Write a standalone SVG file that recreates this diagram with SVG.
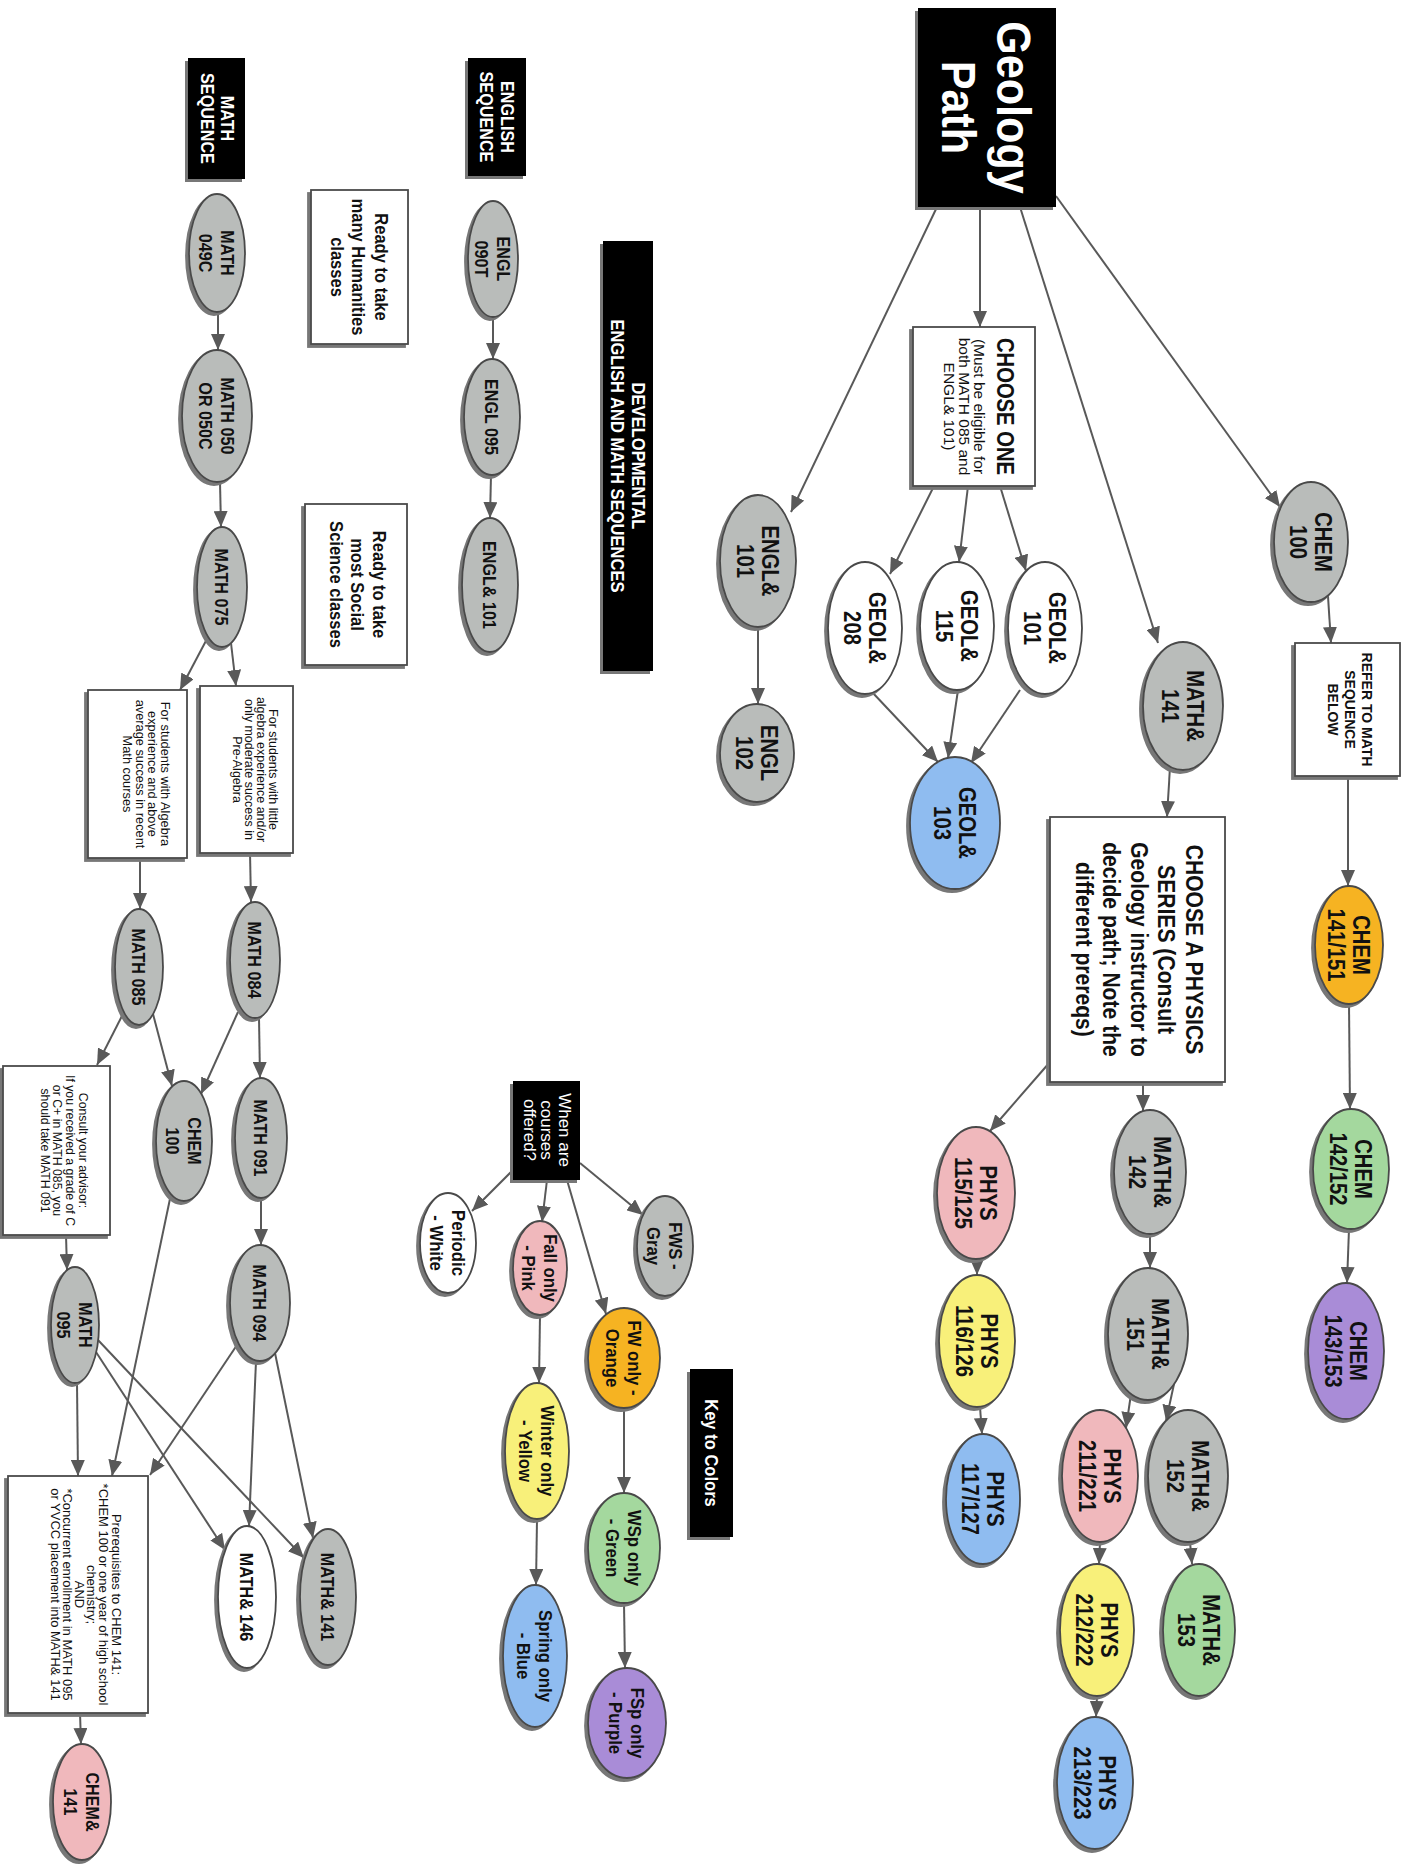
<svg xmlns="http://www.w3.org/2000/svg" width="1412" height="1865" viewBox="0 0 1412 1865">
<defs>
<style>
.t{font-family:'Liberation Sans',Arial,sans-serif;text-anchor:middle;fill:#111}
.bd{font-weight:bold}
.wt{fill:#fff}
.sh{filter:url(#ds)}
ellipse,rect.nb{stroke:#4a4a4a;stroke-width:1.8}
.g{fill:#b9bcba}.w{fill:#fff}.bl{fill:#8fbcf0}.or{fill:#f6b321}.gr{fill:#a4d89e}.pu{fill:#a98cd7}.pk{fill:#f0b8bc}.ye{fill:#f8f07a}
#connectors line{fill:none;stroke:#595959;stroke-width:2;marker-end:url(#ah)}
</style>
<filter id="ds" x="-20%" y="-20%" width="140%" height="140%"><feOffset in="SourceAlpha" dx="-3" dy="3" result="o"/><feFlood flood-color="#777"/><feComposite in2="o" operator="in" result="s"/><feMerge><feMergeNode in="s"/><feMergeNode in="SourceGraphic"/></feMerge></filter>
<marker id="ah" markerUnits="userSpaceOnUse" markerWidth="16" markerHeight="14" refX="16" refY="7" orient="auto"><path d="M0,0 L16,7 L0,14 z" fill="#595959"/></marker>
</defs>
<rect width="1412" height="1865" fill="#fff"/>

<g id="connectors">
<line x1="937" y1="207" x2="791" y2="512"/>
<line x1="980" y1="207" x2="980" y2="327"/>
<line x1="1020" y1="207" x2="1158" y2="643"/>
<line x1="1056" y1="196" x2="1280" y2="507"/>
<line x1="934" y1="486" x2="890" y2="574"/>
<line x1="968" y1="486" x2="959" y2="562"/>
<line x1="1000" y1="486" x2="1026" y2="571"/>
<line x1="872" y1="692" x2="938" y2="762"/>
<line x1="958" y1="690" x2="948" y2="758"/>
<line x1="1020" y1="690" x2="971" y2="763"/>
<line x1="758" y1="627" x2="758" y2="704"/>
<line x1="1328" y1="596" x2="1331" y2="643"/>
<line x1="1348" y1="776" x2="1348" y2="886"/>
<line x1="1349" y1="1004" x2="1350" y2="1109"/>
<line x1="1349" y1="1229" x2="1347" y2="1283"/>
<line x1="1170" y1="767" x2="1167" y2="817"/>
<line x1="1143" y1="1082" x2="1143" y2="1111"/>
<line x1="1050" y1="1062" x2="990" y2="1131"/>
<line x1="977" y1="1259" x2="977" y2="1275"/>
<line x1="980" y1="1407" x2="982" y2="1434"/>
<line x1="1150" y1="1234" x2="1150" y2="1268"/>
<line x1="1131" y1="1394" x2="1126" y2="1428"/>
<line x1="1174" y1="1384" x2="1166" y2="1421"/>
<line x1="1190" y1="1542" x2="1192" y2="1564"/>
<line x1="1100" y1="1542" x2="1099" y2="1564"/>
<line x1="1097" y1="1696" x2="1096" y2="1717"/>
<line x1="580" y1="1163" x2="643" y2="1215"/>
<line x1="567" y1="1180" x2="606" y2="1314"/>
<line x1="547" y1="1180" x2="542" y2="1222"/>
<line x1="513" y1="1170" x2="472" y2="1211"/>
<line x1="540" y1="1315" x2="539" y2="1383"/>
<line x1="624" y1="1408" x2="624" y2="1493"/>
<line x1="537" y1="1519" x2="536" y2="1585"/>
<line x1="624" y1="1603" x2="625" y2="1668"/>
<line x1="493" y1="317" x2="493" y2="359"/>
<line x1="491" y1="475" x2="490" y2="518"/>
<line x1="218" y1="312" x2="218" y2="350"/>
<line x1="220" y1="482" x2="221" y2="527"/>
<line x1="231" y1="643" x2="236" y2="686"/>
<line x1="208" y1="637" x2="180" y2="690"/>
<line x1="250" y1="853" x2="251" y2="902"/>
<line x1="140" y1="858" x2="140" y2="909"/>
<line x1="259" y1="1018" x2="260" y2="1078"/>
<line x1="238" y1="1012" x2="201" y2="1094"/>
<line x1="153" y1="1014" x2="172" y2="1086"/>
<line x1="124" y1="1012" x2="97" y2="1065"/>
<line x1="261" y1="1198" x2="261" y2="1245"/>
<line x1="66" y1="1235" x2="67" y2="1270"/>
<line x1="77" y1="1383" x2="78" y2="1476"/>
<line x1="171" y1="1194" x2="112" y2="1476"/>
<line x1="239" y1="1342" x2="150" y2="1475"/>
<line x1="256" y1="1361" x2="249" y2="1526"/>
<line x1="275" y1="1353" x2="313" y2="1538"/>
<line x1="96" y1="1352" x2="225" y2="1550"/>
<line x1="98" y1="1340" x2="304" y2="1558"/>
<line x1="80" y1="1713" x2="81" y2="1744"/>
</g>

<!-- Geology section -->
<g id="geology-path"><rect class="sh" x="918" y="8" width="138" height="199" fill="#000"/>
<g transform="translate(987,107.5) rotate(90) scale(0.88,1)"><text class="t bd wt" font-size="49" y="-10">Geology</text><text class="t bd wt" font-size="49" y="45">Path</text></g></g>

<g id="choose-one"><rect class="sh nb" x="913" y="327" width="122" height="159" fill="#fff"/>
<g transform="translate(974,406.5) rotate(90)"><text class="t bd" font-size="23" y="-22.8" transform="scale(0.88,1)">CHOOSE ONE</text><text class="t" font-size="15.5" y="0.5">(Must be eligible for</text><text class="t" font-size="15.5" y="15.5">both MATH 085 and</text><text class="t" font-size="15.5" y="30.5">ENGL&amp; 101)</text></g></g>

<g id="chem100a"><ellipse class="sh g" cx="1311" cy="542" rx="37" ry="60"/>
<g transform="translate(1311,542) rotate(90) scale(0.88,1)"><text class="t bd" font-size="23" y="-4.2">CHEM</text><text class="t bd" font-size="23" y="20.8">100</text></g></g>

<g id="engl101"><ellipse class="sh g" cx="758" cy="561" rx="38" ry="66"/>
<g transform="translate(758,561) rotate(90) scale(0.88,1)"><text class="t bd" font-size="23" y="-4.2">ENGL&amp;</text><text class="t bd" font-size="23" y="20.8">101</text></g></g>

<g id="engl102"><ellipse class="sh g" cx="757" cy="753" rx="37" ry="49"/>
<g transform="translate(757,753) rotate(90) scale(0.88,1)"><text class="t bd" font-size="23" y="-4.2">ENGL</text><text class="t bd" font-size="23" y="20.8">102</text></g></g>

<g id="geol208"><ellipse class="sh w" cx="865" cy="628" rx="37" ry="66"/>
<g transform="translate(865,628) rotate(90) scale(0.88,1)"><text class="t bd" font-size="23" y="-4.2">GEOL&amp;</text><text class="t bd" font-size="23" y="20.8">208</text></g></g>

<g id="geol115"><ellipse class="sh w" cx="957" cy="626" rx="37" ry="64"/>
<g transform="translate(957,626) rotate(90) scale(0.88,1)"><text class="t bd" font-size="23" y="-4.2">GEOL&amp;</text><text class="t bd" font-size="23" y="20.8">115</text></g></g>

<g id="geol101"><ellipse class="sh w" cx="1045" cy="628" rx="37" ry="66"/>
<g transform="translate(1045,628) rotate(90) scale(0.88,1)"><text class="t bd" font-size="23" y="-4.2">GEOL&amp;</text><text class="t bd" font-size="23" y="20.8">101</text></g></g>

<g id="geol103"><ellipse class="sh bl" cx="955" cy="823" rx="45" ry="66"/>
<g transform="translate(955,823) rotate(90) scale(0.88,1)"><text class="t bd" font-size="23" y="-4.2">GEOL&amp;</text><text class="t bd" font-size="23" y="20.8">103</text></g></g>

<g id="math141a"><ellipse class="sh g" cx="1183" cy="706" rx="40" ry="64"/>
<g transform="translate(1183,706) rotate(90) scale(0.88,1)"><text class="t bd" font-size="23" y="-4.2">MATH&amp;</text><text class="t bd" font-size="23" y="20.8">141</text></g></g>

<g id="refer"><rect class="sh nb" x="1295" y="643" width="105" height="133" fill="#fff"/>
<g transform="translate(1347.5,709.5) rotate(90)"><text class="t bd" font-size="14" y="-14.5">REFER TO MATH</text><text class="t bd" font-size="14" y="2.5">SEQUENCE</text><text class="t bd" font-size="14" y="19.5">BELOW</text></g></g>

<g id="chem141"><ellipse class="sh or" cx="1349" cy="945" rx="34" ry="59"/>
<g transform="translate(1349,945) rotate(90) scale(0.88,1)"><text class="t bd" font-size="23" y="-4.2">CHEM</text><text class="t bd" font-size="23" y="20.8">141/151</text></g></g>

<g id="chem142"><ellipse class="sh gr" cx="1351" cy="1169" rx="38" ry="60"/>
<g transform="translate(1351,1169) rotate(90) scale(0.88,1)"><text class="t bd" font-size="23" y="-4.2">CHEM</text><text class="t bd" font-size="23" y="20.8">142/152</text></g></g>

<g id="chem143"><ellipse class="sh pu" cx="1346" cy="1351" rx="38" ry="68"/>
<g transform="translate(1346,1351) rotate(90) scale(0.88,1)"><text class="t bd" font-size="23" y="-4.2">CHEM</text><text class="t bd" font-size="23" y="20.8">143/153</text></g></g>

<g id="physics-box"><rect class="sh nb" x="1050" y="817" width="175" height="265" fill="#fff"/>
<g transform="translate(1137.5,949.5) rotate(90) scale(0.88,1)"><text class="t bd" font-size="24" y="-48.9">CHOOSE A PHYSICS</text><text class="t bd" font-size="24" y="-20.9">SERIES (Consult</text><text class="t bd" font-size="24" y="6.1">Geology instructor to</text><text class="t bd" font-size="24" y="34.1">decide path; Note the</text><text class="t bd" font-size="24" y="61.1">different prereqs)</text></g></g>

<g id="math142"><ellipse class="sh g" cx="1150" cy="1172" rx="36" ry="62"/>
<g transform="translate(1150,1172) rotate(90) scale(0.88,1)"><text class="t bd" font-size="23" y="-4.2">MATH&amp;</text><text class="t bd" font-size="23" y="20.8">142</text></g></g>

<g id="math151"><ellipse class="sh g" cx="1148" cy="1334" rx="40" ry="66"/>
<g transform="translate(1148,1334) rotate(90) scale(0.88,1)"><text class="t bd" font-size="23" y="-4.2">MATH&amp;</text><text class="t bd" font-size="23" y="20.8">151</text></g></g>

<g id="math152"><ellipse class="sh g" cx="1188" cy="1476" rx="40" ry="66"/>
<g transform="translate(1188,1476) rotate(90) scale(0.88,1)"><text class="t bd" font-size="23" y="-4.2">MATH&amp;</text><text class="t bd" font-size="23" y="20.8">152</text></g></g>

<g id="math153"><ellipse class="sh gr" cx="1199" cy="1630" rx="36" ry="66"/>
<g transform="translate(1199,1630) rotate(90) scale(0.88,1)"><text class="t bd" font-size="23" y="-4.2">MATH&amp;</text><text class="t bd" font-size="23" y="20.8">153</text></g></g>

<g id="phys115"><ellipse class="sh pk" cx="976" cy="1193" rx="39" ry="66"/>
<g transform="translate(976,1193) rotate(90) scale(0.88,1)"><text class="t bd" font-size="23" y="-4.2">PHYS</text><text class="t bd" font-size="23" y="20.8">115/125</text></g></g>

<g id="phys116"><ellipse class="sh ye" cx="977" cy="1341" rx="38" ry="66"/>
<g transform="translate(977,1341) rotate(90) scale(0.88,1)"><text class="t bd" font-size="23" y="-4.2">PHYS</text><text class="t bd" font-size="23" y="20.8">116/126</text></g></g>

<g id="phys117"><ellipse class="sh bl" cx="983" cy="1499" rx="37" ry="65"/>
<g transform="translate(983,1499) rotate(90) scale(0.88,1)"><text class="t bd" font-size="23" y="-4.2">PHYS</text><text class="t bd" font-size="23" y="20.8">117/127</text></g></g>

<g id="phys211"><ellipse class="sh pk" cx="1100" cy="1476" rx="38" ry="66"/>
<g transform="translate(1100,1476) rotate(90) scale(0.88,1)"><text class="t bd" font-size="23" y="-4.2">PHYS</text><text class="t bd" font-size="23" y="20.8">211/221</text></g></g>

<g id="phys212"><ellipse class="sh ye" cx="1097" cy="1630" rx="37" ry="66"/>
<g transform="translate(1097,1630) rotate(90) scale(0.88,1)"><text class="t bd" font-size="23" y="-4.2">PHYS</text><text class="t bd" font-size="23" y="20.8">212/222</text></g></g>

<g id="phys213"><ellipse class="sh bl" cx="1095" cy="1783" rx="38" ry="66"/>
<g transform="translate(1095,1783) rotate(90) scale(0.88,1)"><text class="t bd" font-size="23" y="-4.2">PHYS</text><text class="t bd" font-size="23" y="20.8">213/223</text></g></g>

<!-- Key -->
<g id="key-title"><rect class="sh" x="690" y="1369" width="43" height="168" fill="#000"/>
<g transform="translate(711.5,1453) rotate(90) scale(0.92,1)"><text class="t bd wt" font-size="18" y="6.3">Key to Colors</text></g></g>

<g id="when"><rect class="sh" x="513" y="1081" width="67" height="99" fill="#000"/>
<g transform="translate(547,1130) rotate(90)"><text class="t wt" font-size="17" y="-11.9">When are</text><text class="t wt" font-size="17" y="5.6">courses</text><text class="t wt" font-size="17" y="23.1">offered?</text></g></g>

<g id="key-periodic"><ellipse class="sh w" cx="448" cy="1243" rx="28" ry="50"/>
<g transform="translate(448,1243) rotate(90) scale(0.88,1)"><text class="t bd" font-size="19" y="-4.2">Periodic</text><text class="t bd" font-size="19" y="17.8">- White</text></g></g>

<g id="key-fall"><ellipse class="sh pk" cx="540" cy="1268" rx="27" ry="47"/>
<g transform="translate(540,1268) rotate(90) scale(0.88,1)"><text class="t bd" font-size="19" y="-4.2">Fall only</text><text class="t bd" font-size="19" y="17.8">- Pink</text></g></g>

<g id="key-fws"><ellipse class="sh g" cx="665" cy="1246" rx="28" ry="50"/>
<g transform="translate(665,1246) rotate(90) scale(0.88,1)"><text class="t bd" font-size="19" y="-4.2">FWS -</text><text class="t bd" font-size="19" y="17.8">Gray</text></g></g>

<g id="key-fw"><ellipse class="sh or" cx="624" cy="1358" rx="36" ry="50"/>
<g transform="translate(624,1358) rotate(90) scale(0.88,1)"><text class="t bd" font-size="19" y="-4.2">FW only -</text><text class="t bd" font-size="19" y="17.8">Orange</text></g></g>

<g id="key-winter"><ellipse class="sh ye" cx="537" cy="1451" rx="32" ry="68"/>
<g transform="translate(537,1451) rotate(90) scale(0.88,1)"><text class="t bd" font-size="19" y="-4.2">Winter only</text><text class="t bd" font-size="19" y="17.8">- Yellow</text></g></g>

<g id="key-wsp"><ellipse class="sh gr" cx="624" cy="1548" rx="36" ry="55"/>
<g transform="translate(624,1548) rotate(90) scale(0.88,1)"><text class="t bd" font-size="19" y="-4.2">WSp only</text><text class="t bd" font-size="19" y="17.8">- Green</text></g></g>

<g id="key-spring"><ellipse class="sh bl" cx="535" cy="1656" rx="32" ry="71"/>
<g transform="translate(535,1656) rotate(90) scale(0.88,1)"><text class="t bd" font-size="19" y="-4.2">Spring only</text><text class="t bd" font-size="19" y="17.8">- Blue</text></g></g>

<g id="key-fsp"><ellipse class="sh pu" cx="627" cy="1723" rx="39" ry="55"/>
<g transform="translate(627,1723) rotate(90) scale(0.88,1)"><text class="t bd" font-size="19" y="-4.2">FSp only</text><text class="t bd" font-size="19" y="17.8">- Purple</text></g></g>

<!-- Developmental -->
<g id="dev-title"><rect class="sh" x="603" y="241" width="50" height="430" fill="#000"/>
<g transform="translate(628,456) rotate(90) scale(0.92,1)"><text class="t bd wt" font-size="18" y="-4.5">DEVELOPMENTAL</text><text class="t bd wt" font-size="18" y="17.5">ENGLISH AND MATH SEQUENCES</text></g></g>

<g id="math-seq"><rect class="sh" x="188" y="58" width="57" height="121" fill="#000"/>
<g transform="translate(217.5,118.5) rotate(90) scale(0.9,1)"><text class="t bd wt" font-size="18" y="-4">MATH</text><text class="t bd wt" font-size="18" y="17">SEQUENCE</text></g></g>

<g id="english-seq"><rect class="sh" x="468" y="58" width="58" height="118" fill="#000"/>
<g transform="translate(497,117) rotate(90) scale(0.9,1)"><text class="t bd wt" font-size="18" y="-4">ENGLISH</text><text class="t bd wt" font-size="18" y="17">SEQUENCE</text></g></g>

<g id="humanities"><rect class="sh nb" x="311" y="190" width="97" height="154" fill="#fff"/>
<g transform="translate(359.5,267) rotate(90) scale(0.87,1)"><text class="t bd" font-size="19" y="-15.7">Ready to take</text><text class="t bd" font-size="19" y="7.3">many Humanities</text><text class="t bd" font-size="19" y="28.3">classes</text></g></g>

<g id="social"><rect class="sh nb" x="305" y="504" width="102" height="161" fill="#fff"/>
<g transform="translate(356,584.5) rotate(90) scale(0.87,1)"><text class="t bd" font-size="19" y="-17.2">Ready to take</text><text class="t bd" font-size="19" y="4.8">most Social</text><text class="t bd" font-size="19" y="25.8">Science classes</text></g></g>

<g id="engl090"><ellipse class="sh g" cx="493" cy="259" rx="25" ry="58"/>
<g transform="translate(493,259) rotate(90) scale(0.85,1)"><text class="t bd" font-size="19" y="-4.2">ENGL</text><text class="t bd" font-size="19" y="17.8">090T</text></g></g>

<g id="engl095"><ellipse class="sh g" cx="492" cy="417" rx="28" ry="58"/>
<g transform="translate(492,417) rotate(90) scale(0.85,1)"><text class="t bd" font-size="19" y="6.8">ENGL 095</text></g></g>

<g id="engl101d"><ellipse class="sh g" cx="490" cy="585" rx="28" ry="67"/>
<g transform="translate(490,585) rotate(90) scale(0.85,1)"><text class="t bd" font-size="19" y="6.8">ENGL&amp; 101</text></g></g>

<g id="math049"><ellipse class="sh g" cx="217" cy="253" rx="28" ry="59"/>
<g transform="translate(217,253) rotate(90) scale(0.85,1)"><text class="t bd" font-size="19" y="-4.2">MATH</text><text class="t bd" font-size="19" y="17.8">049C</text></g></g>

<g id="math050"><ellipse class="sh g" cx="217" cy="416" rx="35" ry="66"/>
<g transform="translate(217,416) rotate(90) scale(0.85,1)"><text class="t bd" font-size="19" y="-4.2">MATH 050</text><text class="t bd" font-size="19" y="17.8">OR 050C</text></g></g>

<g id="math075"><ellipse class="sh g" cx="222" cy="587" rx="25" ry="60"/>
<g transform="translate(222,587) rotate(90) scale(0.85,1)"><text class="t bd" font-size="19" y="6.8">MATH 075</text></g></g>

<g id="little-box"><rect class="sh nb" x="200" y="686" width="93" height="167" fill="#fff"/>
<g transform="translate(246.5,769.5) rotate(90)"><text class="t" font-size="12.5" y="-22">For students with little</text><text class="t" font-size="12.5" y="-10">algebra experience and/or</text><text class="t" font-size="12.5" y="2">only moderate success in</text><text class="t" font-size="12.5" y="14">Pre-Algebra</text></g></g>

<g id="algebra-box"><rect class="sh nb" x="88" y="690" width="99" height="168" fill="#fff"/>
<g transform="translate(137.5,774) rotate(90)"><text class="t" font-size="12.8" y="-23">For students with Algebra</text><text class="t" font-size="12.8" y="-10">experience and above</text><text class="t" font-size="12.8" y="2">average success in recent</text><text class="t" font-size="12.8" y="15">Math courses</text></g></g>

<g id="math084"><ellipse class="sh g" cx="255" cy="960" rx="25" ry="58"/>
<g transform="translate(255,960) rotate(90) scale(0.85,1)"><text class="t bd" font-size="19" y="6.8">MATH 084</text></g></g>

<g id="math085"><ellipse class="sh g" cx="139" cy="967" rx="24" ry="58"/>
<g transform="translate(139,967) rotate(90) scale(0.85,1)"><text class="t bd" font-size="19" y="6.8">MATH 085</text></g></g>

<g id="consult"><rect class="sh nb" x="3" y="1066" width="107" height="169" fill="#fff"/>
<g transform="translate(56.5,1150.5) rotate(90)"><text class="t" font-size="12.3" y="-22.1">Consult your advisor:</text><text class="t" font-size="12.3" y="-9.1">If you received a grade of C</text><text class="t" font-size="12.3" y="3.9">or C+ in MATH 085, you</text><text class="t" font-size="12.3" y="15.9">should take MATH 091</text></g></g>

<g id="chem100b"><ellipse class="sh g" cx="184" cy="1141" rx="28" ry="60"/>
<g transform="translate(184,1141) rotate(90) scale(0.85,1)"><text class="t bd" font-size="19" y="-4.2">CHEM</text><text class="t bd" font-size="19" y="17.8">100</text></g></g>

<g id="math091"><ellipse class="sh g" cx="261" cy="1138" rx="26" ry="60"/>
<g transform="translate(261,1138) rotate(90) scale(0.85,1)"><text class="t bd" font-size="19" y="6.8">MATH 091</text></g></g>

<g id="math094"><ellipse class="sh g" cx="260" cy="1303" rx="30" ry="58"/>
<g transform="translate(260,1303) rotate(90) scale(0.85,1)"><text class="t bd" font-size="19" y="6.8">MATH 094</text></g></g>

<g id="math095"><ellipse class="sh g" cx="75" cy="1325" rx="24" ry="58"/>
<g transform="translate(75,1325) rotate(90) scale(0.85,1)"><text class="t bd" font-size="19" y="-4.2">MATH</text><text class="t bd" font-size="19" y="17.8">095</text></g></g>

<g id="prereq"><rect class="sh nb" x="8" y="1476" width="140" height="237" fill="#fff"/>
<g transform="translate(78,1594.5) rotate(90)"><text class="t" font-size="13" y="-34.3">Prerequisites to CHEM 141:</text><text class="t" font-size="13" y="-21.3">*CHEM 100 or one year of high school</text><text class="t" font-size="13" y="-9.3">chemistry;</text><text class="t" font-size="13" y="2.7">AND</text><text class="t" font-size="13" y="14.7">*Concurrent enrollment in MATH 095</text><text class="t" font-size="13" y="26.7">or YVCC placement into MATH&amp; 141</text></g></g>

<g id="math146"><ellipse class="sh w" cx="247" cy="1597" rx="29" ry="71"/>
<g transform="translate(247,1597) rotate(90) scale(0.85,1)"><text class="t bd" font-size="19" y="6.8">MATH&amp; 146</text></g></g>

<g id="math141b"><ellipse class="sh g" cx="328" cy="1597" rx="28" ry="68"/>
<g transform="translate(328,1597) rotate(90) scale(0.85,1)"><text class="t bd" font-size="19" y="6.8">MATH&amp; 141</text></g></g>

<g id="chem141b"><ellipse class="sh pk" cx="82" cy="1802" rx="29" ry="58"/>
<g transform="translate(82,1802) rotate(90) scale(0.85,1)"><text class="t bd" font-size="19" y="-4.2">CHEM&amp;</text><text class="t bd" font-size="19" y="17.8">141</text></g></g>
</svg>
